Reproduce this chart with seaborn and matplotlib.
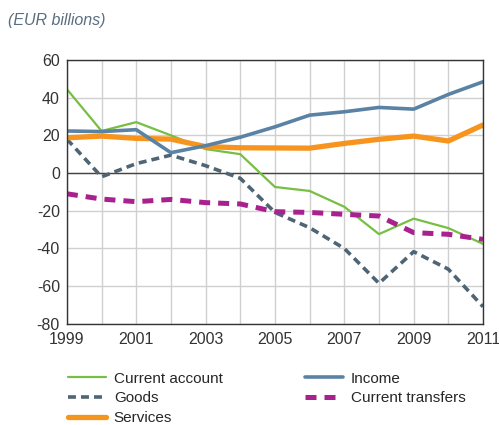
import matplotlib
matplotlib.use("Agg")
import matplotlib.pyplot as plt
import seaborn as sns
import pandas as pd

years = list(range(1999, 2012))
current_account = [44.5, 22.3, 27, 20, 12.7, 10, -7.4, -9.5, -17.9, -32.4, -24.2, -29.2, -37.6]
goods = [18, -2, 5, 9.5, 3.9, -2.8, -20.9, -29, -40, -58.5, -41.7, -51, -70.9]
services = [18.7, 19.6, 18.4, 18, 14, 13.4, 13.3, 13.2, 15.7, 17.9, 19.6, 17, 25.5]
income = [22.3, 22, 23, 10.8, 14.5, 19, 24.5, 30.7, 32.5, 34.8, 33.9, 41.7, 48.4]
current_transfers = [-11, -13.8, -15.2, -14, -15.7, -16.4, -20.5, -20.9, -21.9, -22.8, -31.6, -32.5, -35.2]

sns.set_style("white")
plt.rcParams['font.family'] = ['Liberation Sans Narrow', 'Liberation Sans', 'DejaVu Sans']
plt.rcParams['axes.unicode_minus'] = False

fig = plt.figure(figsize=(4.99, 4.25), dpi=100)
ax = fig.add_axes([0.134, 0.238, 0.834, 0.621])

series = [
    ("Current account", current_account, "#76bf43", 1.6, "-"),
    ("Goods", goods, "#506573", 2.6, (0, (2.2, 1.4))),
    ("Services", services, "#f7941d", 3.8, "-"),
    ("Income", income, "#5a82a4", 2.6, "-"),
    ("Current transfers", current_transfers, "#a8218e", 3.6, (0, (2.2, 1.6))),
]
for name, vals, color, lw, ls in series:
    df = pd.DataFrame({"year": years, "value": vals})
    sns.lineplot(data=df, x="year", y="value", ax=ax, color=color, lw=lw,
                 linestyle=ls, label=name, legend=False)

ax.set_xlim(1999, 2011)
ax.set_ylim(-80, 60)
ax.set_xticks(range(1999, 2012))
ax.set_xticklabels([str(y) if (y - 1999) % 2 == 0 else "" for y in years])
ax.set_yticks(range(-80, 61, 20))
ax.grid(True, color="#d0d0d0", lw=1)
ax.set_axisbelow(True)
ax.axhline(0, color="#444444", lw=1, zorder=1)
for s in ax.spines.values():
    s.set_color("#333333")
    s.set_linewidth(1)
ax.tick_params(axis="both", length=0, labelsize=11.5, colors="#333333")
ax.tick_params(axis="x", pad=6)
ax.tick_params(axis="y", pad=5)
ax.set_xlabel("")
ax.set_ylabel("")

fig.text(0.016, 0.94, "(EUR billions)", fontsize=11.5, style="italic", color="#5b6e80")

handles, labels = ax.get_legend_handles_labels()
fig.legend(handles, labels, ncol=2, loc="upper left", bbox_to_anchor=(0.124, 0.14),
           frameon=False, fontsize=11, handlelength=2.5, handletextpad=0.5,
           columnspacing=5.4, labelspacing=0.38, borderaxespad=0)

fig.savefig("out.png", dpi=100)
